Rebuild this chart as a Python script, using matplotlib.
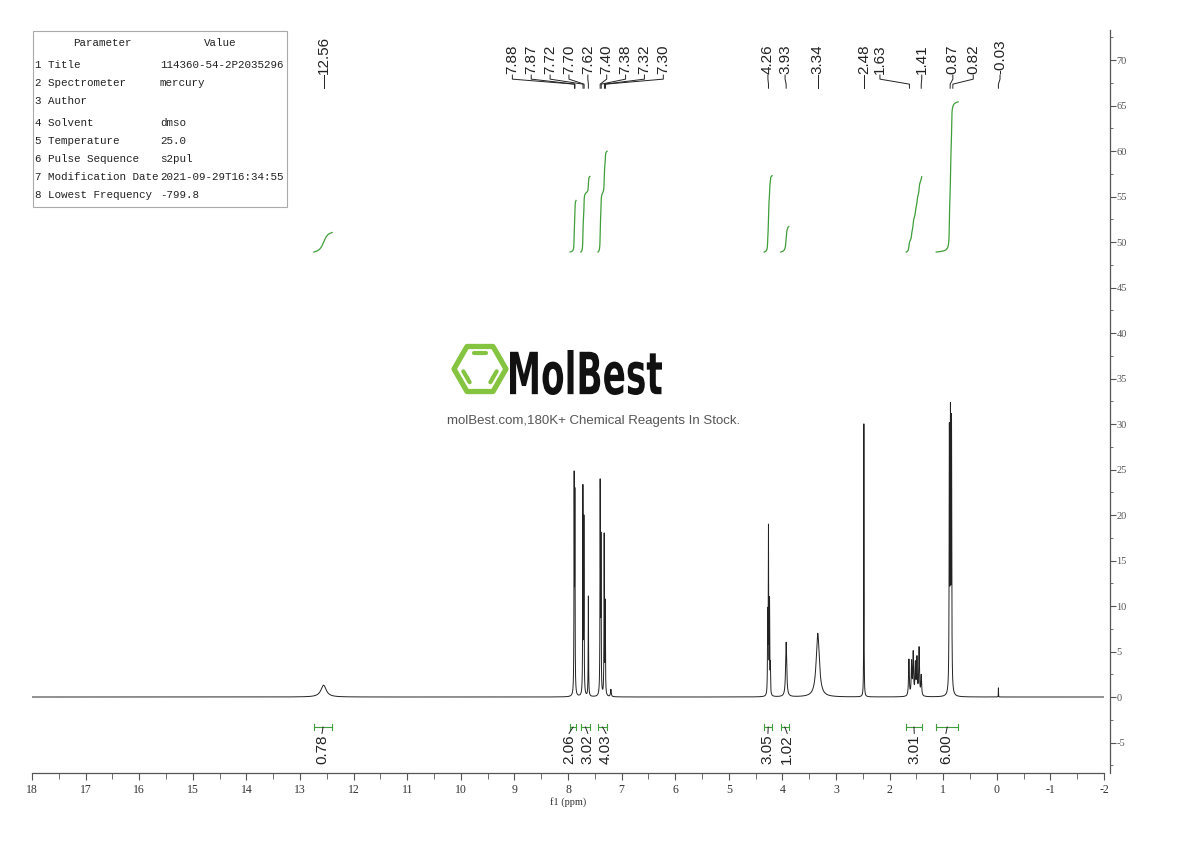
import numpy as np
import matplotlib
matplotlib.use("Agg")
import matplotlib.pyplot as plt
from matplotlib.textpath import TextPath
from matplotlib.patches import PathPatch, Polygon
from matplotlib.font_manager import FontProperties
from matplotlib.transforms import Affine2D

plt.rcParams['axes.unicode_minus'] = False

# peak list: shift (ppm), height, half width (ppm)
peak_ppm = [12.56, 7.885, 7.872, 7.722, 7.703, 7.62, 7.40, 7.385, 7.325, 7.305, 7.20,
            4.275, 4.26, 4.24, 4.225, 3.93, 3.34, 2.48,
            1.64, 1.59, 1.56, 1.52, 1.49, 1.45, 1.41,
            0.885, 0.865, 0.845, -0.03]
peak_height = [1.3, 23.0, 21.0, 22.5, 19.0, 11.0, 22.8, 16.5, 17.5, 10.0, 0.8,
               8.5, 18.0, 10.0, 3.0, 6.0, 7.0, 30.0,
               4.0, 3.6, 4.6, 3.4, 4.0, 5.2, 2.2,
               28.0, 29.0, 29.0, 1.0]
peak_width = [0.06, 0.004, 0.004, 0.004, 0.004, 0.004, 0.004, 0.004, 0.004, 0.004, 0.008,
              0.004, 0.004, 0.004, 0.004, 0.012, 0.035, 0.003,
              0.008, 0.008, 0.008, 0.008, 0.008, 0.008, 0.008,
              0.005, 0.005, 0.005, 0.002]

# labelled peaks (top) and where the label text sits
peak_labels = [12.56, 7.88, 7.87, 7.72, 7.70, 7.62, 7.40, 7.38, 7.32, 7.30,
               4.26, 3.93, 3.34, 2.48, 1.63, 1.41, 0.87, 0.82, -0.03]
label_pos = [12.56] + [7.63 + (4 - i) * 0.352 for i in range(9)] + \
            [4.27, 3.95, 3.34, 2.48, 2.18, 1.40, 0.82, 0.44, -0.06]

# integrals: region (from, to) in ppm and value
int_from = [12.74, 7.96, 7.76, 7.44, 4.34, 4.03, 1.69, 1.13]
int_to = [12.40, 7.85, 7.59, 7.27, 4.19, 3.88, 1.40, 0.72]
int_values = [0.78, 2.06, 3.02, 4.03, 3.05, 1.02, 3.01, 6.00]
int_label_pos = [12.59, 7.98, 7.63, 7.29, 4.27, 3.91, 1.54, 0.95]

params = ["Title", "Spectrometer", "Author", "Solvent", "Temperature",
          "Pulse Sequence", "Modification Date", "Lowest Frequency"]
values = ["114360-54-2P2035296", "mercury", "", "dmso", "25.0",
          "s2pul", "2021-09-29T16:34:55", "-799.8"]

green = '#3f9e3a'
sans = ['Liberation Sans', 'DejaVu Sans']
serif = ['Liberation Serif', 'DejaVu Serif']

x = np.linspace(18, -2, 40001)
spec = np.zeros_like(x)
for p, h, w in zip(peak_ppm, peak_height, peak_width):
    spec += h * w**2 / ((x - p)**2 + w**2)

fig = plt.figure(figsize=(11.9, 8.41), dpi=100)
ax = fig.add_axes([32/1190, 68/841, 1072/1190, 743/841])
ax.plot(x, spec, color='#222222', lw=0.7)
ax.set_xlim(18, -2)
ax.set_ylim(-8.35, 73.3)

ax.spines['left'].set_visible(False)
ax.spines['top'].set_visible(False)
ax.spines['right'].set_position(('outward', 4))
for s in ['bottom', 'right']:
    ax.spines[s].set_color('#555555')
    ax.spines[s].set_linewidth(0.9)
ax.yaxis.tick_right()
ax.set_xticks(np.arange(18, -3, -1))
ax.set_xticks(np.arange(18, -2.5, -0.5), minor=True)
ax.set_yticks(np.arange(-5, 71, 5))
ax.set_yticks(np.arange(-7.5, 73, 2.5), minor=True)
ax.tick_params(axis='x', which='major', length=5, color='#555555', labelsize=8.5,
               labelcolor='#333333', pad=3)
ax.tick_params(axis='x', which='minor', length=4, color='#555555')
ax.tick_params(axis='y', which='major', length=4, color='#555555', labelsize=7.5,
               labelcolor='#555555', pad=1)
ax.tick_params(axis='y', which='minor', length=2.5, color='#555555')
for t in ax.get_xticklabels() + ax.get_yticklabels():
    t.set_family(serif)
ax.set_xlabel("f1 (ppm)", family=serif, fontsize=7.5, color='#333333', labelpad=1)

# integral curves, brackets and values
k, base = 2.75, 48.9
for a, b, v, lp in zip(int_from, int_to, int_values, int_label_pos):
    m = (x <= a) & (x >= b)
    c = np.cumsum(spec[m])
    ax.plot(x[m], base + v * k * c / c[-1], color=green, lw=0.9)
    yb = -3.3
    ax.plot([a, b], [yb, yb], color=green, lw=0.8)
    ax.plot([a, a], [yb - 0.3, yb + 0.3], color=green, lw=0.8)
    ax.plot([b, b], [yb - 0.3, yb + 0.3], color=green, lw=0.8)
    mid = (a + b) / 2
    ax.plot([mid, lp], [yb, -4.0], color='#222222', lw=0.7)
    ax.text(lp, -4.1, f"{v:.2f}", rotation=90, ha='center', va='top',
            family=sans, fontsize=11, color='#222222')

# peak labels with connectors
for p, lp in zip(peak_labels, label_pos):
    ax.plot([lp, lp, p, p], [68.35, 67.9, 67.35, 66.9], color='#222222', lw=0.7)
    ax.text(lp, 68.45, f"{p:.2f}", rotation=90, ha='center', va='bottom',
            family=sans, fontsize=11, color='#222222')

# overlay in pixel coordinates for table and watermark
ov = fig.add_axes([0, 0, 1, 1])
ov.set_xlim(0, 1190)
ov.set_ylim(841, 0)
ov.axis('off')
ov.patch.set_alpha(0)

ov.add_patch(plt.Rectangle((33, 31), 254, 176, fill=False, ec='#aaaaaa', lw=0.8))
mono = ['Liberation Mono', 'DejaVu Sans Mono']
ov.text(102, 43, "Parameter", ha='center', va='center', family=mono, fontsize=7.8, color='#222222')
ov.text(220, 43, "Value", ha='center', va='center', family=mono, fontsize=7.8, color='#222222')
row_y = [65, 83, 101, 123, 141, 159, 177, 195]
for i, (pn, pv, yy) in enumerate(zip(params, values, row_y)):
    ov.text(35, yy, f"{i + 1} {pn}", va='center', family=mono, fontsize=7.8, color='#222222')
    ov.text(160, yy, pv, va='center', family=mono, fontsize=7.8, color='#222222')

# watermark logo
lg = '#85c440'
cx, cy, R = 480, 369, 26
ang = np.radians(np.arange(0, 360, 60))
ov.add_patch(Polygon(np.c_[cx + R * np.cos(ang), cy - R * np.sin(ang)], closed=True,
                     fill=False, ec=lg, lw=3.8, joinstyle='round'))
r = 18
for a0 in [60, 180, 300]:
    p0 = np.array([cx + r * np.cos(np.radians(a0)), cy - r * np.sin(np.radians(a0))])
    p1 = np.array([cx + r * np.cos(np.radians(a0 + 60)), cy - r * np.sin(np.radians(a0 + 60))])
    q0 = p0 + 0.15 * (p1 - p0)
    q1 = p0 + 0.85 * (p1 - p0)
    ov.plot([q0[0], q1[0]], [q0[1], q1[1]], color=lg, lw=3.0, solid_capstyle='round')

tp = TextPath((0, 0), "MolBest", size=1, prop=FontProperties(family='DejaVu Sans', weight='bold'))
bb = tp.get_extents()
tr = Affine2D().translate(-bb.x0, -bb.y0).scale(152 / bb.width, -45 / bb.height).translate(510, 395)
ov.add_patch(PathPatch(tr.transform_path(tp), fc='#111111', ec='none'))
ov.text(594, 421, "molBest.com,180K+ Chemical Reagents In Stock.", ha='center', va='center',
        family=sans, fontsize=9.5, color='#555555')

fig.savefig("out.png", dpi=100)
